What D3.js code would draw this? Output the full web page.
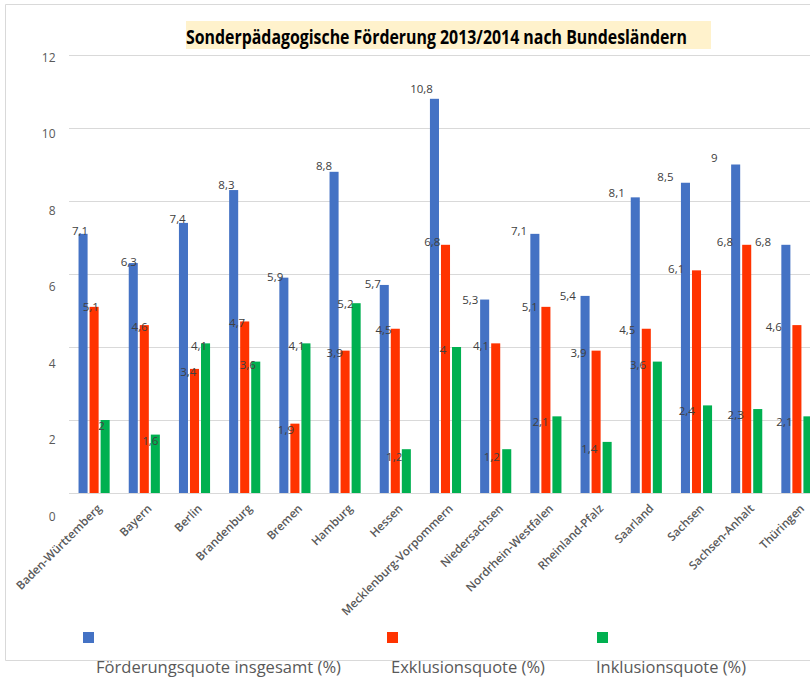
<!DOCTYPE html>
<html>
<head>
<meta charset="utf-8">
<script src="https://cdn.jsdelivr.net/npm/d3@7"></script>
<style>
  html, body { margin: 0; padding: 0; background: #fff; }
  svg { display: block; font-family: "Open Sans", "DejaVu Sans", sans-serif; }
</style>
</head>
<body>
<svg id="chart" width="810" height="680"></svg>
<script>
// Bundesländer and the three quotas (percent), school year 2013/2014
const laender = ["Baden-Württemberg", "Bayern", "Berlin", "Brandenburg", "Bremen", "Hamburg", "Hessen",
  "Mecklenburg-Vorpommern", "Niedersachsen", "Nordrhein-Westfalen", "Rheinland-Pfalz", "Saarland",
  "Sachsen", "Sachsen-Anhalt", "Thüringen"];
const foerderquote = [7.1, 6.3, 7.4, 8.3, 5.9, 8.8, 5.7, 10.8, 5.3, 7.1, 5.4, 8.1, 8.5, 9, 6.8];
const exklusionsquote = [5.1, 4.6, 3.4, 4.7, 1.9, 3.9, 4.5, 6.8, 4.1, 5.1, 3.9, 4.5, 6.1, 6.8, 4.6];
const inklusionsquote = [2, 1.6, 4.1, 3.6, 4.1, 5.2, 1.2, 4, 1.2, 2.1, 1.4, 3.6, 2.4, 2.3, 2.1];
const seriesNames = ["Förderungsquote insgesamt (%)", "Exklusionsquote (%)", "Inklusionsquote (%)"];
const yTicks = [0, 2, 4, 6, 8, 10, 12];
const titleText = "Sonderpädagogische Förderung 2013/2014 nach Bundesländern";

const colors = ["#4472c4", "#ff3300", "#00b050"];
const seriesValues = [foerderquote, exklusionsquote, inklusionsquote];

const svg = d3.select("#chart");

// outer frame of the chart area
svg.append("path")
  .attr("d", "M810,4.5 H5.5 V660.5 H810")
  .attr("fill", "none").attr("stroke", "#d9d9d9").attr("stroke-width", 1);

// bar layer scales
const x0 = d3.scaleBand().domain(laender).range([69, 822]).paddingInner(0.38).paddingOuter(0.19);
const x1 = d3.scaleBand().domain(d3.range(3)).range([0, x0.bandwidth()]).paddingInner(0.18);
const y = d3.scaleLinear().domain([0, 12]).range([493, 55]);

// text layer scales (tick and value labels sit on a slightly different grid)
const x0Lab = d3.scaleBand().domain(laender).range([66.4, 798.1]).paddingInner(0.38).paddingOuter(0.19);
const x1Lab = d3.scaleBand().domain(d3.range(3)).range([0, x0Lab.bandwidth()]).paddingInner(0.18);
const yLab = d3.scaleLinear().domain([0, 12]).range([516, 57]);

// gridlines
svg.append("g")
  .selectAll("line").data(yTicks).join("line")
  .attr("x1", 69).attr("x2", 822)
  .attr("y1", d => Math.round(y(d)) + 0.5).attr("y2", d => Math.round(y(d)) + 0.5)
  .attr("stroke", "#d9d9d9").attr("stroke-width", 1);

// y tick labels
svg.append("g")
  .selectAll("text").data(yTicks).join("text")
  .attr("x", 55.5).attr("y", d => yLab(d))
  .attr("text-anchor", "end").attr("dominant-baseline", "central")
  .attr("font-size", 12).attr("fill", "#595959")
  .text(d => d);

// title with highlighted background
svg.append("rect").attr("x", 186).attr("y", 21).attr("width", 525).attr("height", 28).attr("fill", "#fff2cc");
svg.append("text")
  .attr("x", 186).attr("y", 43.5)
  .attr("font-size", 19).attr("font-weight", 700).attr("fill", "#000")
  .attr("textLength", 501).attr("lengthAdjust", "spacingAndGlyphs")
  .text(titleText);

// bars
const rows = laender.map((name, i) => ({ name, vals: seriesValues.map(s => s[i]) }));
const groups = svg.append("g").selectAll("g").data(rows).join("g")
  .attr("transform", d => `translate(${x0(d.name)},0)`);
groups.selectAll("rect").data(d => d.vals.map((v, k) => ({ v, k }))).join("rect")
  .attr("x", d => x1(d.k))
  .attr("y", d => y(d.v))
  .attr("width", x1.bandwidth())
  .attr("height", d => y(0) - y(d.v))
  .attr("fill", d => colors[d.k]);

// value labels
const fmt = v => String(v).replace(".", ",");
svg.append("g").selectAll("g").data(rows).join("g")
  .attr("transform", d => `translate(${x0Lab(d.name)},0)`)
  .selectAll("text").data(d => d.vals.map((v, k) => ({ v, k }))).join("text")
  .attr("x", d => x1Lab(d.k) + x1Lab.bandwidth() / 2)
  .attr("y", d => yLab(d.v) - 14)
  .attr("text-anchor", "middle").attr("dominant-baseline", "central")
  .attr("font-size", 11.5).attr("fill", "#404040")
  .text(d => fmt(d.v));

// category labels, rotated
svg.append("g").selectAll("text").data(laender).join("text")
  .attr("transform", d => `translate(${x0(d) + x0.bandwidth() / 2 + 5},${506}) rotate(-45)`)
  .attr("text-anchor", "end").attr("dominant-baseline", "central")
  .attr("font-size", 11.6).attr("font-weight", 600).attr("fill", "#595959")
  .text(d => d);

// legend: swatches above, names below the frame
const legSwatchX = [83, 387, 597];
const legTextX = [96, 391, 596];
const legTextW = [245, 154, 150];
svg.append("g").selectAll("rect").data(seriesNames).join("rect")
  .attr("x", (d, i) => legSwatchX[i]).attr("y", 632)
  .attr("width", 11).attr("height", 11)
  .attr("fill", (d, i) => colors[i]);
svg.append("g").selectAll("text").data(seriesNames).join("text")
  .attr("x", (d, i) => legTextX[i]).attr("y", 673)
  .attr("font-size", 17).attr("fill", "#595959")
  .attr("textLength", (d, i) => legTextW[i]).attr("lengthAdjust", "spacingAndGlyphs")
  .text(d => d);
</script>
</body>
</html>
